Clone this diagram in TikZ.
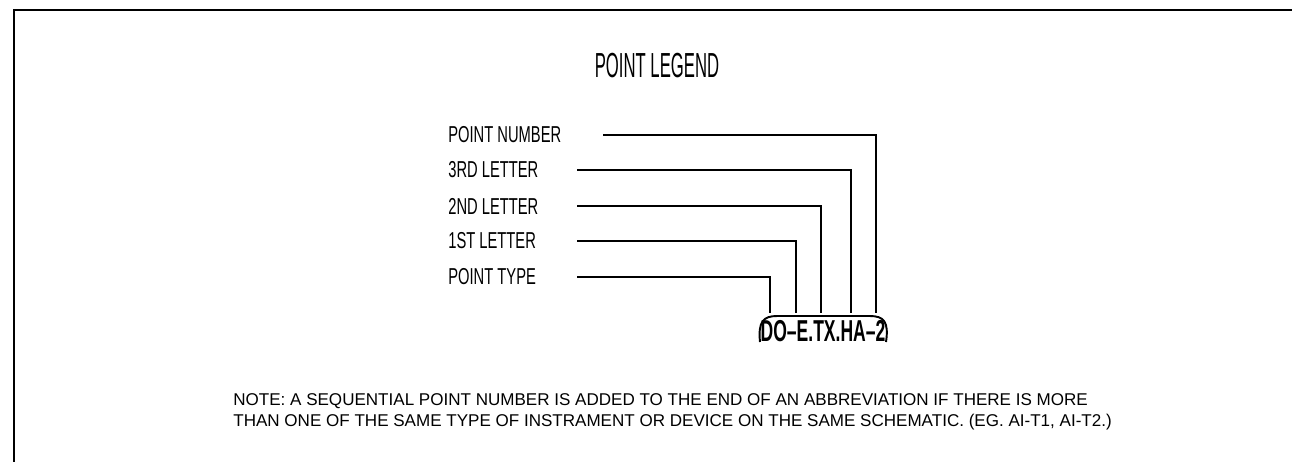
\documentclass[tikz,border=0pt]{standalone}
\usepackage{fontspec}
\setmainfont{Liberation Sans}
\newfontfamily\titlefont[FakeStretch=0.48]{Liberation Sans}
\newfontfamily\labelfont[FakeStretch=0.64]{Liberation Sans}
\newfontfamily\codefont[FakeStretch=0.58]{Liberation Sans}
\usetikzlibrary{positioning,calc}

\tikzset{
  lbl/.style={anchor=west, inner sep=0pt, font=\labelfont\fontsize{13.1}{14}\selectfont},
  lead/.style={line width=0.85pt},
}

\begin{document}
\begin{tikzpicture}[x=0.02cm, y=-0.02cm]
  \useasboundingbox (0,0) rectangle (1292,461);
  \clip (0,0) rectangle (1292,461);
  \draw[line width=1.4pt] (14,10) rectangle (1320,490);
  % title
  \node[inner sep=0pt, font=\titlefont\fontsize{19.8}{21}\selectfont] (title) at (657,66) {POINT LEGEND};
  % labels
  \node[lbl] (pnum) at (448,135) {POINT NUMBER};
  \node[lbl] (third) at (448,170) {3RD LETTER};
  \node[lbl] (second) at (448,206) {2ND LETTER};
  \node[lbl] (first) at (448,241) {1ST LETTER};
  \node[lbl] (ptype) at (448,277) {POINT TYPE};
  % leader starts and drops
  \coordinate (pnum-s) at (603,135);
  \coordinate (third-s) at (577,170);
  \coordinate (second-s) at (577,206);
  \coordinate (first-s) at (577,241);
  \coordinate (ptype-s) at (577,277);
  \coordinate (pnum-d) at (876,313);
  \coordinate (third-d) at (851,313);
  \coordinate (second-d) at (821,313);
  \coordinate (first-d) at (796,313);
  \coordinate (ptype-d) at (770,313);
  \draw[lead] (pnum-s) -| (pnum-d);
  \draw[lead] (third-s) -| (third-d);
  \draw[lead] (second-s) -| (second-d);
  \draw[lead] (first-s) -| (first-d);
  \draw[lead] (ptype-s) -| (ptype-d);
  % the abbreviation
  \node[inner sep=0pt, font=\codefont\bfseries\fontsize{17.2}{18}\selectfont] (code) at (823,331) {DO–E.TX.HA–2};
  \draw[line width=1.1pt] (760,342) .. controls (758,322) and (763,316) .. (777,316)
    -- (870,316) .. controls (884,316) and (889,322) .. (886,342);
  % note
  \node[anchor=west, inner sep=0pt, align=left, font=\fontsize{9.7}{11.9}\selectfont] (note) at (233,412)
    {NOTE: A SEQUENTIAL POINT NUMBER IS ADDED TO THE END OF AN ABBREVIATION IF THERE IS MORE\\
     THAN ONE OF THE SAME TYPE OF INSTRAMENT OR DEVICE ON THE SAME SCHEMATIC. (EG. AI-T1, AI-T2.)};
\end{tikzpicture}
\end{document}
